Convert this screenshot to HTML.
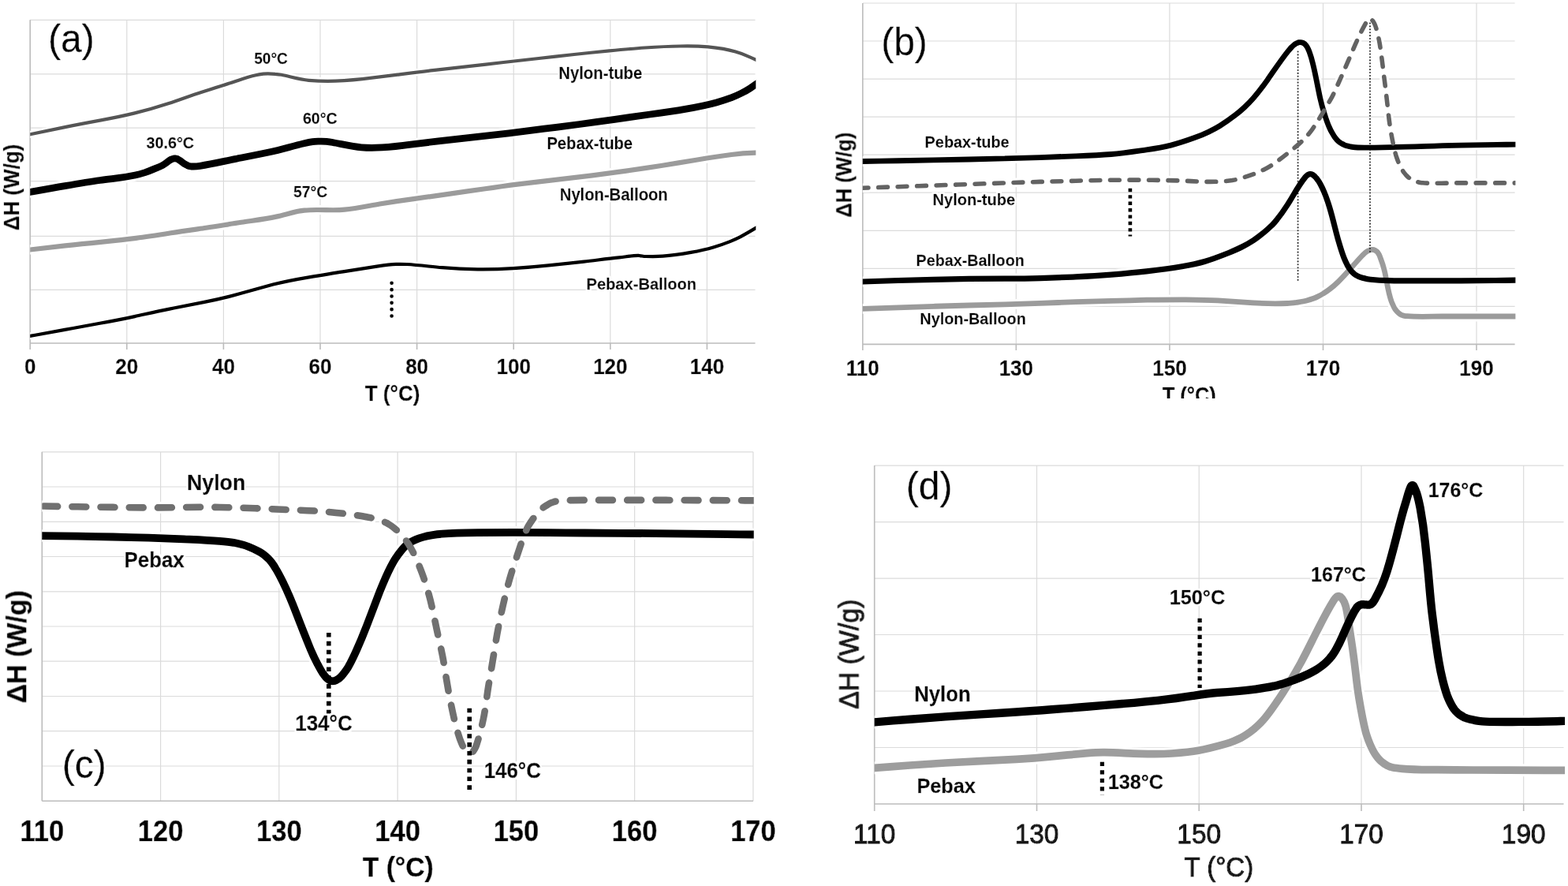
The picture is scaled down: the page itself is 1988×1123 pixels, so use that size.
<!DOCTYPE html>
<html lang="en"><head><meta charset="utf-8"><title>DSC thermograms</title>
<style>
html,body{margin:0;padding:0;background:#fff;}
body{width:1988px;height:1123px;overflow:hidden;}
svg{display:block;}
text{font-family:"Liberation Sans",Arial,Helvetica,sans-serif;font-weight:bold;fill:#000;stroke:#000;stroke-width:0.017em;stroke-linejoin:round;filter:url(#halo);}
text.r{font-weight:normal;stroke-width:0.008em;}
text.g{fill:#151515;stroke:#151515;stroke-width:0.036em;}
</style></head><body>
<svg width="1988" height="1123" viewBox="0 0 1988 1123">
<rect width="1988" height="1123" fill="#fff"/>
<defs>
<filter id="soft" filterUnits="userSpaceOnUse" x="0" y="0" width="1988" height="1123"><feGaussianBlur stdDeviation="0.5"/></filter>
<filter id="halo" x="-10%" y="-25%" width="120%" height="150%"><feMorphology in="SourceAlpha" operator="dilate" radius="2.2"/><feColorMatrix type="matrix" values="0 0 0 0 1 0 0 0 0 1 0 0 0 0 1 0 0 0 1 0"/><feMerge><feMergeNode/><feMergeNode in="SourceGraphic"/></feMerge></filter>
<clipPath id="ca"><rect x="38.2" y="0" width="920.1" height="460"/></clipPath>
<clipPath id="cb"><rect x="1093.8" y="0" width="827.6" height="460"/></clipPath>
<clipPath id="cbt"><rect x="1400" y="480" width="220" height="24.2"/></clipPath>
<clipPath id="cc"><rect x="53.3" y="560" width="902.4" height="470"/></clipPath>
<clipPath id="cd"><rect x="1108.7" y="560" width="875.3" height="470"/></clipPath>
</defs>
<g filter="url(#soft)">
<path d="M160.8 25.2V435M283.4 25.2V435M406 25.2V435M528.6 25.2V435M651.2 25.2V435M773.8 25.2V435M896.4 25.2V435M38.2 25.4H957.5M38.2 93.9H957.5M38.2 162.2H957.5M38.2 229.7H957.5M38.2 299.3H957.5M38.2 367.3H957.5" stroke="#dbdbdb" stroke-width="1.2" fill="none"/>
<path d="M38.2 435H957.5M38.2 25.2V435M38.2 435V443M160.8 435V443M283.4 435V443M406 435V443M528.6 435V443M651.2 435V443M773.8 435V443M896.4 435V443" stroke="#bcbcbc" stroke-width="1.6" fill="none"/>
<g clip-path="url(#ca)" fill="none" stroke-linejoin="round">
<path d="M30.5 172L38.3 170.3C53 167.2 67.7 164.1 82.4 161.1C97.1 158.1 111.9 155.3 126.6 152.6C141.4 149.9 156.1 147 170.7 143.4C185.3 139.8 199.7 135.7 214 131C228.2 126.3 242.3 120.9 256.6 116.4C270.9 111.9 285.3 107.5 299.5 102.7C307.7 100 316 97.2 324.4 95.3C327.5 94.6 330.7 94.1 333.8 93.7C335.8 93.5 337.8 93.3 339.8 93.3C342.8 93.3 345.8 93.5 348.8 93.8C351.5 94 354.1 94.3 356.7 94.8C368.3 97.1 379.7 100.7 391.5 101.8C399.5 102.5 407.5 102.9 415.5 102.9C430.2 102.7 444.9 101.6 459.4 100.1C474.4 98.4 489.3 96.5 504.2 94.7C519.1 92.8 533.9 90.9 548.9 89.2C563.8 87.5 578.7 85.8 593.6 84.1C608.5 82.4 623.5 80.7 638.4 79C653.3 77.3 668.2 75.7 683.1 74C698 72.3 713 70.6 727.9 69C742.8 67.4 757.8 65.9 772.7 64.4C787.6 63 802.6 61.6 817.6 60.5C832.5 59.5 847.5 58.7 862.5 58.5C874.2 58.3 885.9 58.4 897.6 59.3C904 59.9 910.5 60.7 916.9 61.9C922.1 62.9 927.3 64.1 932.5 65.6C937.3 67 942 68.7 946.6 70.6C950.5 72.2 954.3 73.9 958 75.7L965.2 79.2" stroke="#fff" stroke-width="9.2"/>
<path d="M30.1 244.9L38 243.5C52.8 240.8 67.5 238.1 82.4 235.6C97.2 233.1 112 230.6 126.8 228.5C141.7 226.3 156.7 225.3 171.4 222C175.6 221.1 179.8 219.9 183.9 218.6C187.4 217.4 190.8 216.1 194.2 214.6C198 212.9 202.1 211.8 205.7 209.7C207.3 208.8 208.8 207.8 210.3 206.7C212.1 205.4 213.7 204 215.6 202.9C216.3 202.5 217.1 202.1 217.8 201.8C218.5 201.5 219.1 201.3 219.7 201.1C220 201 220.4 200.9 220.7 200.9C221 200.8 221.4 200.8 221.7 200.8C222 200.8 222.4 200.8 222.7 200.9C223 200.9 223.4 201 223.7 201.1C224 201.2 224.3 201.3 224.6 201.4C225.1 201.6 225.5 201.9 226 202.1C227.1 202.8 228.2 203.6 229.3 204.3C231 205.6 232.7 207 234.6 208.1C235.6 208.7 236.6 209.3 237.7 209.7C238.3 210 238.9 210.2 239.6 210.4C240.1 210.6 240.6 210.7 241 210.8C241.5 210.9 242 211 242.5 211C243.4 211 244.2 211 245 211C247.9 210.9 250.7 210.7 253.5 210.3C268.4 208.1 283 204.6 297.7 201.6C312.4 198.7 327.2 195.9 341.9 192.8C356.6 189.7 370.9 185.2 385.6 181.8C389.1 181 392.7 180.2 396.4 179.7C398.7 179.4 401 179.3 403.4 179.2C406.9 179.1 410.4 179.1 413.9 179.4C416.5 179.6 419.2 180 421.8 180.5C433.9 182.7 445.9 185.9 458.2 186.8C464.6 187.3 470.9 187.4 477.2 187.2C488.6 186.9 499.9 185.7 511.1 184.3C526 182.4 540.9 180.6 555.9 178.9C570.8 177.2 585.7 175.6 600.6 173.9C615.6 172.3 630.5 170.6 645.4 168.9C660.3 167.1 675.2 165.2 690.1 163.2C705 161.3 719.9 159.5 734.8 157.5C749.7 155.5 764.5 153.4 779.4 151.3C794.3 149.2 809.1 147.1 824 145C838.9 142.9 853.7 140.8 868.5 138.3C881.9 136 895.2 133.5 908.2 129.9C914.8 128.1 921.3 126.1 927.7 123.7C932.1 122 936.3 120 940.5 117.9C944.1 116.1 947.6 114.2 950.9 112C953.2 110.5 955.3 109 957.5 107.4L964 102.8" stroke="#fff" stroke-width="14.8"/>
<path d="M30.1 317.4L38 316.5C52.9 314.7 67.8 313 82.7 311.4C97.7 309.7 112.6 308.2 127.5 306.8C142.5 305.3 157.4 303.8 172.3 301.9C187.2 300.1 202 297.7 216.8 295.3C231.6 292.8 246.5 290.9 261.4 288.8C276.3 286.7 291 284 305.9 281.8C320.7 279.5 335.6 277.7 350.3 274.6C362.2 272.1 373.8 267.9 385.9 266.7C391.1 266.1 396.3 266 401.4 266C413.3 265.9 425.1 266.9 436.9 265.7C451.8 264.1 466.6 261 481.4 258.5C496.2 256.1 511 253.9 525.9 251.9C540.8 249.9 555.6 247.7 570.5 245.6C585.4 243.5 600.2 241.3 615.1 239.2C629.9 237 644.8 235 659.7 233.1C674.6 231.3 689.5 229.6 704.4 227.9C719.3 226.2 734.2 224.4 749.1 222.6C764 220.7 778.9 218.7 793.8 216.6C808.6 214.5 823.5 212.3 838.3 210C853.1 207.6 867.9 205.1 882.7 202.7C897.6 200.2 912.4 197.8 927.3 196C937.4 194.7 947.5 194 957.7 193.7L965.7 193.4" stroke="#fff" stroke-width="12.2"/>
<path d="M30.1 427.3L38 425.9C52.8 423.3 67.6 420.6 82.3 417.9C97.1 415.3 111.9 412.5 126.6 409.8C141.4 407.1 156.2 404.3 170.8 401.1C185.5 397.9 200.1 394.6 214.9 391.6C229.6 388.7 244.3 385.9 259.1 382.9C273.8 379.9 288.4 376.6 302.9 372.6C317.4 368.7 331.8 364.5 346.3 360.6C360.8 356.8 375.6 354.1 390.4 351.6C405.2 349.1 420 346.6 434.9 344.3C449.7 342 464.5 339.6 479.4 337.4C487 336.3 494.6 335.3 502.3 334.9C506.8 334.7 511.3 334.8 515.8 335C530.8 335.9 545.7 337.9 560.6 339.2C575.6 340.6 590.6 341.3 605.6 341.4C620.6 341.6 635.6 341.1 650.6 340.1C665.6 339.2 680.6 338 695.5 336.4C710.4 334.8 725.4 333.4 740.3 331.7C755.2 330 770 327.7 785 326.3C793.1 325.6 801.2 323.8 809.4 323.9C810.1 324 810.7 324 811.4 324.1C813.9 324.4 816.3 325 818.8 325C826 325.2 833.2 325.3 840.3 324.7C852.3 323.8 864.2 322 876 319.9C885.6 318.1 895 316.1 904.3 313.4C911.5 311.3 918.7 308.9 925.6 306.1C930.1 304.3 934.5 302.3 938.8 300.1C945.2 296.7 951.3 293.1 957.5 289.4L964.4 285.3" stroke="#fff" stroke-width="9.2"/>
<path d="M30.5 172L38.3 170.3C53 167.2 67.7 164.1 82.4 161.1C97.1 158.1 111.9 155.3 126.6 152.6C141.4 149.9 156.1 147 170.7 143.4C185.3 139.8 199.7 135.7 214 131C228.2 126.3 242.3 120.9 256.6 116.4C270.9 111.9 285.3 107.5 299.5 102.7C307.7 100 316 97.2 324.4 95.3C327.5 94.6 330.7 94.1 333.8 93.7C335.8 93.5 337.8 93.3 339.8 93.3C342.8 93.3 345.8 93.5 348.8 93.8C351.5 94 354.1 94.3 356.7 94.8C368.3 97.1 379.7 100.7 391.5 101.8C399.5 102.5 407.5 102.9 415.5 102.9C430.2 102.7 444.9 101.6 459.4 100.1C474.4 98.4 489.3 96.5 504.2 94.7C519.1 92.8 533.9 90.9 548.9 89.2C563.8 87.5 578.7 85.8 593.6 84.1C608.5 82.4 623.5 80.7 638.4 79C653.3 77.3 668.2 75.7 683.1 74C698 72.3 713 70.6 727.9 69C742.8 67.4 757.8 65.9 772.7 64.4C787.6 63 802.6 61.6 817.6 60.5C832.5 59.5 847.5 58.7 862.5 58.5C874.2 58.3 885.9 58.4 897.6 59.3C904 59.9 910.5 60.7 916.9 61.9C922.1 62.9 927.3 64.1 932.5 65.6C937.3 67 942 68.7 946.6 70.6C950.5 72.2 954.3 73.9 958 75.7L965.2 79.2" stroke="#555" stroke-width="4.2"/>
<path d="M30.1 244.9L38 243.5C52.8 240.8 67.5 238.1 82.4 235.6C97.2 233.1 112 230.6 126.8 228.5C141.7 226.3 156.7 225.3 171.4 222C175.6 221.1 179.8 219.9 183.9 218.6C187.4 217.4 190.8 216.1 194.2 214.6C198 212.9 202.1 211.8 205.7 209.7C207.3 208.8 208.8 207.8 210.3 206.7C212.1 205.4 213.7 204 215.6 202.9C216.3 202.5 217.1 202.1 217.8 201.8C218.5 201.5 219.1 201.3 219.7 201.1C220 201 220.4 200.9 220.7 200.9C221 200.8 221.4 200.8 221.7 200.8C222 200.8 222.4 200.8 222.7 200.9C223 200.9 223.4 201 223.7 201.1C224 201.2 224.3 201.3 224.6 201.4C225.1 201.6 225.5 201.9 226 202.1C227.1 202.8 228.2 203.6 229.3 204.3C231 205.6 232.7 207 234.6 208.1C235.6 208.7 236.6 209.3 237.7 209.7C238.3 210 238.9 210.2 239.6 210.4C240.1 210.6 240.6 210.7 241 210.8C241.5 210.9 242 211 242.5 211C243.4 211 244.2 211 245 211C247.9 210.9 250.7 210.7 253.5 210.3C268.4 208.1 283 204.6 297.7 201.6C312.4 198.7 327.2 195.9 341.9 192.8C356.6 189.7 370.9 185.2 385.6 181.8C389.1 181 392.7 180.2 396.4 179.7C398.7 179.4 401 179.3 403.4 179.2C406.9 179.1 410.4 179.1 413.9 179.4C416.5 179.6 419.2 180 421.8 180.5C433.9 182.7 445.9 185.9 458.2 186.8C464.6 187.3 470.9 187.4 477.2 187.2C488.6 186.9 499.9 185.7 511.1 184.3C526 182.4 540.9 180.6 555.9 178.9C570.8 177.2 585.7 175.6 600.6 173.9C615.6 172.3 630.5 170.6 645.4 168.9C660.3 167.1 675.2 165.2 690.1 163.2C705 161.3 719.9 159.5 734.8 157.5C749.7 155.5 764.5 153.4 779.4 151.3C794.3 149.2 809.1 147.1 824 145C838.9 142.9 853.7 140.8 868.5 138.3C881.9 136 895.2 133.5 908.2 129.9C914.8 128.1 921.3 126.1 927.7 123.7C932.1 122 936.3 120 940.5 117.9C944.1 116.1 947.6 114.2 950.9 112C953.2 110.5 955.3 109 957.5 107.4L964 102.8" stroke="#000" stroke-width="8.8"/>
<path d="M30.1 317.4L38 316.5C52.9 314.7 67.8 313 82.7 311.4C97.7 309.7 112.6 308.2 127.5 306.8C142.5 305.3 157.4 303.8 172.3 301.9C187.2 300.1 202 297.7 216.8 295.3C231.6 292.8 246.5 290.9 261.4 288.8C276.3 286.7 291 284 305.9 281.8C320.7 279.5 335.6 277.7 350.3 274.6C362.2 272.1 373.8 267.9 385.9 266.7C391.1 266.1 396.3 266 401.4 266C413.3 265.9 425.1 266.9 436.9 265.7C451.8 264.1 466.6 261 481.4 258.5C496.2 256.1 511 253.9 525.9 251.9C540.8 249.9 555.6 247.7 570.5 245.6C585.4 243.5 600.2 241.3 615.1 239.2C629.9 237 644.8 235 659.7 233.1C674.6 231.3 689.5 229.6 704.4 227.9C719.3 226.2 734.2 224.4 749.1 222.6C764 220.7 778.9 218.7 793.8 216.6C808.6 214.5 823.5 212.3 838.3 210C853.1 207.6 867.9 205.1 882.7 202.7C897.6 200.2 912.4 197.8 927.3 196C937.4 194.7 947.5 194 957.7 193.7L965.7 193.4" stroke="#9b9b9b" stroke-width="6.2"/>
<path d="M30.1 427.3L38 425.9C52.8 423.3 67.6 420.6 82.3 417.9C97.1 415.3 111.9 412.5 126.6 409.8C141.4 407.1 156.2 404.3 170.8 401.1C185.5 397.9 200.1 394.6 214.9 391.6C229.6 388.7 244.3 385.9 259.1 382.9C273.8 379.9 288.4 376.6 302.9 372.6C317.4 368.7 331.8 364.5 346.3 360.6C360.8 356.8 375.6 354.1 390.4 351.6C405.2 349.1 420 346.6 434.9 344.3C449.7 342 464.5 339.6 479.4 337.4C487 336.3 494.6 335.3 502.3 334.9C506.8 334.7 511.3 334.8 515.8 335C530.8 335.9 545.7 337.9 560.6 339.2C575.6 340.6 590.6 341.3 605.6 341.4C620.6 341.6 635.6 341.1 650.6 340.1C665.6 339.2 680.6 338 695.5 336.4C710.4 334.8 725.4 333.4 740.3 331.7C755.2 330 770 327.7 785 326.3C793.1 325.6 801.2 323.8 809.4 323.9C810.1 324 810.7 324 811.4 324.1C813.9 324.4 816.3 325 818.8 325C826 325.2 833.2 325.3 840.3 324.7C852.3 323.8 864.2 322 876 319.9C885.6 318.1 895 316.1 904.3 313.4C911.5 311.3 918.7 308.9 925.6 306.1C930.1 304.3 934.5 302.3 938.8 300.1C945.2 296.7 951.3 293.1 957.5 289.4L964.4 285.3" stroke="#000" stroke-width="4.2"/>
<path d="M496.6 358.8V401" stroke="#000" stroke-width="4.6" stroke-dasharray="0.01 8.33" stroke-linecap="round"/>
</g>
<text transform="translate(38.2 474.1) scale(1 1.05)" font-size="26" text-anchor="middle">0</text>
<text transform="translate(160.8 474.1) scale(1 1.05)" font-size="26" text-anchor="middle">20</text>
<text transform="translate(283.4 474.1) scale(1 1.05)" font-size="26" text-anchor="middle">40</text>
<text transform="translate(406 474.1) scale(1 1.05)" font-size="26" text-anchor="middle">60</text>
<text transform="translate(528.6 474.1) scale(1 1.05)" font-size="26" text-anchor="middle">80</text>
<text transform="translate(651.2 474.1) scale(1 1.05)" font-size="26" text-anchor="middle">100</text>
<text transform="translate(773.8 474.1) scale(1 1.05)" font-size="26" text-anchor="middle">120</text>
<text transform="translate(896.4 474.1) scale(1 1.05)" font-size="26" text-anchor="middle">140</text>
<text transform="translate(462.7 508.4) scale(1 1.05)" font-size="26.03">T (°C)</text>
<text transform="translate(24.4 292.2) rotate(-90) scale(1 1.05)" font-size="25.95">ΔH (W/g)</text>
<text transform="translate(61 65.8) scale(1 1.03)" font-size="48" class="r">(a)</text>
<text transform="translate(322.2 80.5) scale(1 1.05)" font-size="19.12">50°C</text>
<text transform="translate(383.9 157.2) scale(1 1.05)" font-size="19.63">60°C</text>
<text transform="translate(185.5 188.1) scale(1 1.05)" font-size="19.78">30.6°C</text>
<text transform="translate(372 249.5) scale(1 1.05)" font-size="19.35">57°C</text>
<text transform="translate(708.3 100.1) scale(1 1.05)" font-size="20.29">Nylon-tube</text>
<text transform="translate(693.4 189.1) scale(1 1.05)" font-size="20.17">Pebax-tube</text>
<text transform="translate(709.8 254) scale(1 1.05)" font-size="20.20">Nylon-Balloon</text>
<text transform="translate(743.5 366.8) scale(1 1.05)" font-size="20.11">Pebax-Balloon</text>
<path d="M1288.3 4V436.4M1482.9 4V436.4M1677.5 4V436.4M1872 4V436.4M1093.8 4H1920.6M1093.8 52H1920.6M1093.8 100.1H1920.6M1093.8 148.1H1920.6M1093.8 196.2H1920.6M1093.8 244.2H1920.6M1093.8 292.3H1920.6M1093.8 340.3H1920.6M1093.8 388.4H1920.6" stroke="#dbdbdb" stroke-width="1.2" fill="none"/>
<path d="M1093.8 436.4H1920.6M1093.8 4V436.4M1093.8 436.4V443.9M1288.3 436.4V443.9M1482.9 436.4V443.9M1677.5 436.4V443.9M1872 436.4V443.9" stroke="#bcbcbc" stroke-width="1.6" fill="none"/>
<g clip-path="url(#cb)" fill="none" stroke-linejoin="round">
<path d="M1085.8 391.7L1093.8 391.4C1108.8 390.8 1123.8 390.3 1138.8 389.8C1153.8 389.3 1168.8 388.8 1183.8 388.3C1198.8 387.8 1213.8 387.4 1228.9 387C1243.9 386.7 1258.9 386.3 1273.9 385.8C1288.9 385.4 1303.9 384.9 1318.9 384.3C1333.9 383.8 1348.9 383.2 1363.9 382.7C1378.9 382.2 1393.9 381.7 1408.9 381.4C1423.9 381 1439 380.6 1454 380.2C1469 379.9 1484 379.8 1499 379.8C1514 379.9 1529 379.9 1544 380.9C1559 381.8 1574 383 1589 383.9C1603.3 384.8 1617.7 385.1 1632 384.5C1635.8 384.4 1639.6 383.9 1643.4 383.4C1647.9 382.7 1652.4 382.1 1656.7 381C1659.6 380.2 1662.5 379.3 1665.3 378.3C1667.2 377.6 1669 376.8 1670.8 375.9C1673.2 374.8 1675.6 373.4 1677.8 372C1680.8 370.2 1683.7 368.2 1686.5 366C1690 363.3 1693.4 360.3 1696.6 357.2C1707.5 346.8 1716.7 334.8 1727.1 324C1728.3 322.8 1729.4 321.6 1730.7 320.5C1731.3 320 1732 319.5 1732.7 319C1733.3 318.6 1733.8 318.3 1734.4 318C1735 317.7 1735.6 317.4 1736.3 317.2C1736.7 317 1737.2 316.8 1737.7 316.7C1738 316.6 1738.3 316.6 1738.7 316.5C1739 316.5 1739.3 316.4 1739.7 316.4C1740 316.4 1740.3 316.4 1740.7 316.5C1741 316.5 1741.3 316.5 1741.7 316.6C1742 316.7 1742.3 316.8 1742.6 316.9C1742.9 317.1 1743.2 317.2 1743.5 317.4C1743.8 317.5 1744.1 317.7 1744.4 317.9C1744.8 318.2 1745.2 318.5 1745.6 318.8C1746 319.1 1746.3 319.5 1746.6 319.9C1747 320.3 1747.3 320.7 1747.5 321.1C1747.9 321.7 1748.2 322.2 1748.5 322.8C1749.2 324.2 1749.7 325.6 1750.2 327C1752 331.7 1753.6 336.4 1754.8 341.3C1758.4 354.8 1759.3 369.1 1764.2 382.2C1765.1 384.4 1766 386.5 1767 388.6C1767.5 389.7 1768.1 390.7 1768.7 391.7C1769.2 392.4 1769.6 393.1 1770.2 393.7C1770.6 394.2 1771 394.7 1771.5 395.2C1772.1 395.8 1772.7 396.4 1773.4 396.9C1774 397.4 1774.7 397.9 1775.4 398.4C1776 398.7 1776.5 399 1777.2 399.3C1777.6 399.5 1778.1 399.7 1778.6 399.8C1779.2 400 1779.8 400.2 1780.5 400.3C1781.7 400.5 1782.8 400.6 1784 400.7C1798.9 401.9 1814 401 1829 401C1844 401 1859 401 1874.1 401C1889.1 401 1904.1 401 1919.1 401C1919.6 401 1920.1 401 1920.6 401L1928.6 401" stroke="#fff" stroke-width="12.8"/>
<path d="M1085.8 357.3L1093.8 357C1108.8 356.4 1123.8 355.9 1138.8 355.5C1153.8 355 1168.8 354.6 1183.8 354.3C1198.9 354 1213.9 353.7 1228.9 353.4C1243.9 353.2 1258.9 353.2 1273.9 353.2C1288.9 353.2 1303.9 353.1 1318.9 352.6C1334 352.1 1349 351.6 1364 350.9C1378.9 350.1 1393.9 349.2 1408.9 348.1C1423.9 346.9 1438.8 345.6 1453.7 343.9C1468.7 342.2 1483.6 340.4 1498.4 337.8C1508.1 336.1 1517.7 334.2 1527.2 331.5C1537.6 328.5 1547.7 324.5 1557.8 320.5C1564 318 1570.1 315.4 1576 312.3C1580.5 309.9 1584.8 307.4 1589 304.7C1593.6 301.6 1598 298.3 1602.3 294.8C1605.7 292 1609.1 289 1612.3 285.8C1614.6 283.6 1616.7 281.2 1618.6 278.7C1623.6 272.6 1628.1 266.2 1632.3 259.6C1639.8 248.2 1645.8 235.6 1654.5 225.1C1655 224.4 1655.5 223.8 1656.1 223.2C1656.6 222.8 1657.1 222.3 1657.7 221.9C1657.9 221.7 1658.2 221.5 1658.5 221.4C1658.8 221.2 1659.1 221.1 1659.4 220.9C1659.7 220.8 1660.1 220.7 1660.4 220.7C1660.6 220.6 1660.7 220.6 1660.9 220.6C1661.1 220.6 1661.2 220.6 1661.4 220.6C1661.6 220.6 1661.7 220.6 1661.9 220.6C1662.1 220.7 1662.2 220.7 1662.4 220.7C1662.7 220.8 1663 220.9 1663.3 221.1C1663.7 221.2 1664 221.4 1664.3 221.5C1664.7 221.8 1665.1 222.1 1665.5 222.4C1666 222.8 1666.6 223.2 1667 223.7C1667.6 224.2 1668.2 224.8 1668.7 225.5C1669.6 226.5 1670.4 227.6 1671.1 228.7C1672.4 230.5 1673.5 232.3 1674.5 234.2C1676.1 237.2 1677.5 240.2 1678.8 243.3C1681.5 249.6 1683.6 256.1 1685.6 262.6C1690 277 1693.1 291.7 1697.2 306.1C1699.2 313 1701.2 319.9 1703.9 326.6C1705.1 329.5 1706.4 332.4 1707.8 335.2C1708.7 336.9 1709.6 338.5 1710.6 340C1711.4 341.1 1712.2 342.2 1713 343.2C1713.6 344 1714.3 344.7 1715 345.4C1715.6 346 1716.3 346.5 1716.9 347.1C1717.7 347.7 1718.5 348.3 1719.4 348.8C1720.2 349.3 1721.1 349.8 1722 350.2C1722.9 350.6 1723.9 351 1724.8 351.3C1726.7 352 1728.6 352.5 1730.6 352.9C1732.9 353.5 1735.2 353.9 1737.5 354.2C1745.3 355.1 1753.1 355.5 1761 355.6C1776 356 1791 355.9 1806 355.9C1821 355.9 1836 355.9 1851 355.8C1866.1 355.8 1881.1 355.7 1896.1 355.5C1904.3 355.4 1912.4 355.3 1920.6 355.2L1928.6 355.1" stroke="#fff" stroke-width="13.2"/>
<path d="M1085.8 204.6L1093.8 204.5C1108.8 204.3 1123.8 204 1138.8 203.8C1153.8 203.5 1168.8 203.2 1183.8 202.9C1198.8 202.6 1213.8 202.3 1228.8 202C1243.9 201.7 1258.9 201.3 1273.9 200.9C1288.9 200.5 1303.9 200.1 1318.9 199.6C1333.9 199.1 1348.9 198.5 1363.9 197.9C1378.8 197.3 1393.8 196.7 1408.8 195.5C1423.8 194.3 1438.6 192 1453.5 189.9C1463.9 188.4 1474.3 186.7 1484.5 184.1C1494.6 181.6 1504.6 178.2 1514.5 174.6C1520.6 172.4 1526.6 170 1532.5 167.1C1537.3 164.8 1542 162.3 1546.6 159.5C1553.2 155.4 1559.7 150.9 1565.9 146.1C1570 143 1573.9 139.6 1577.7 136.1C1581.7 132.3 1585.6 128.4 1589.2 124.2C1595.6 116.8 1601.6 108.9 1607.2 100.9C1615.9 88.6 1624 76 1633.5 64.3C1634.9 62.7 1636.3 61 1637.8 59.5C1638.6 58.6 1639.5 57.8 1640.4 57.1C1641 56.6 1641.7 56.1 1642.4 55.6C1643 55.3 1643.6 54.9 1644.2 54.7C1644.6 54.4 1645.1 54.2 1645.6 54.1C1646 53.9 1646.5 53.8 1647 53.7C1647.3 53.7 1647.7 53.6 1648 53.6C1648.3 53.6 1648.7 53.6 1649 53.6C1649.4 53.6 1649.7 53.6 1650 53.7C1650.3 53.8 1650.7 53.8 1651 53.9C1651.3 54 1651.6 54.2 1651.9 54.3C1652.2 54.4 1652.5 54.6 1652.8 54.8C1653.1 54.9 1653.4 55.1 1653.7 55.3C1654.1 55.6 1654.4 56 1654.8 56.3C1655.1 56.7 1655.5 57.1 1655.8 57.5C1656.2 58 1656.6 58.5 1656.9 59.1C1657.5 60.1 1658.1 61.1 1658.6 62.2C1659.2 63.5 1659.8 64.9 1660.3 66.3C1662 70.9 1663.3 75.5 1664.4 80.2C1668.1 94.8 1670.5 109.6 1673.7 124.3C1675.2 131.3 1677.2 138.2 1679.4 145C1681.1 150.4 1682.9 155.8 1685.2 161C1686.3 163.6 1687.6 166.2 1689 168.6C1689.9 170.2 1690.9 171.8 1691.9 173.3C1692.9 174.6 1693.9 175.9 1695 177.2C1695.7 177.9 1696.4 178.6 1697.2 179.3C1697.8 179.8 1698.4 180.4 1699.1 180.8C1699.8 181.3 1700.5 181.8 1701.3 182.2C1702.3 182.7 1703.3 183.2 1704.4 183.7C1705.5 184.1 1706.6 184.5 1707.7 184.8C1709.3 185.3 1711 185.6 1712.6 186C1714.4 186.3 1716.2 186.6 1718 186.7C1733 187.8 1748.1 186.9 1763.1 186.6C1778.1 186.4 1793.1 185.9 1808.1 185.4C1823.1 184.8 1838.1 184.4 1853.1 184.1C1868.1 183.8 1883.1 183.6 1898.1 183.4C1905.6 183.3 1913.1 183.2 1920.6 183.1L1928.6 183" stroke="#fff" stroke-width="12.9"/>
<path d="M1085.8 238.5L1093.8 238.2C1108.8 237.7 1123.8 237.2 1138.8 236.7C1153.8 236.1 1168.8 235.6 1183.8 235.1C1198.8 234.6 1213.8 234 1228.8 233.5C1243.8 232.9 1258.8 232.4 1273.8 231.9C1288.8 231.4 1303.8 230.9 1318.8 230.4C1333.8 230 1348.8 229.6 1363.8 229.2C1378.9 228.9 1393.9 228.5 1408.9 228.3C1423.9 228.1 1438.9 228.1 1453.9 228.2C1468.9 228.4 1483.9 228.5 1498.9 229.1C1513.9 229.7 1528.9 230.9 1543.9 230.2C1550.1 229.9 1556.3 229.5 1562.4 228.6C1564.5 228.2 1566.6 227.8 1568.7 227.2C1575.8 225.4 1582.8 223 1589.7 220.5C1594.2 218.8 1598.7 216.9 1603 214.7C1605.5 213.5 1608 212.1 1610.4 210.6C1619.9 204.7 1628.5 197.5 1637.3 190.6C1642 186.9 1646.5 182.9 1650.9 178.7C1653.7 176 1656.5 173.1 1659.1 170C1660.6 168.2 1662.1 166.4 1663.4 164.5C1671.9 152.1 1679.5 139.2 1687 126.1C1689.7 121.4 1692 116.3 1694.3 111.3C1700.4 97.6 1706.5 83.9 1712.4 70.1C1718.2 56.4 1724.1 42.8 1731.3 29.8C1731.8 28.8 1732.4 27.8 1733.1 26.8C1733.4 26.4 1733.7 26 1734.1 25.6C1734.3 25.4 1734.6 25.2 1734.8 25C1735.1 24.8 1735.4 24.6 1735.7 24.5C1735.9 24.4 1736.1 24.3 1736.2 24.3C1736.4 24.2 1736.6 24.2 1736.7 24.2" stroke="#fff" stroke-width="11.6" stroke-dasharray="11.7 12.8" stroke-dashoffset="-3.4" stroke-linecap="round"/>
<path d="M1928.6 231.9L1920.6 231.9C1911.8 231.9 1902.9 231.9 1894.1 231.9C1879 231.9 1864 231.9 1849 231.9C1834 231.9 1818.9 232.8 1803.9 231.8C1802.9 231.8 1801.9 231.7 1800.9 231.5C1799.8 231.3 1798.6 231 1797.5 230.7C1795.8 230.1 1794 229.5 1792.4 228.8C1791.3 228.3 1790.2 227.8 1789.2 227.3C1788.5 226.9 1787.8 226.4 1787.1 225.9C1786.4 225.4 1785.8 224.9 1785.1 224.3C1784.3 223.6 1783.5 222.7 1782.7 221.9C1781.7 220.7 1780.7 219.6 1779.8 218.4C1778.9 217 1778 215.6 1777.1 214.2C1775.9 212.1 1774.9 210 1774 207.9C1772.7 205.1 1771.7 202.3 1770.7 199.5C1769.1 194.6 1767.9 189.5 1766.8 184.5C1764.2 172.1 1762 159.5 1760.6 146.9C1759 132 1757.3 117.1 1755.4 102.2C1753.5 87.3 1751.9 72.3 1749.6 57.5C1748.6 51 1747.1 44.7 1745.5 38.4C1745 36.4 1744.4 34.5 1743.7 32.6C1743.3 31.5 1742.8 30.5 1742.3 29.4C1741.9 28.7 1741.5 28 1741.1 27.3C1740.8 26.9 1740.5 26.5 1740.2 26.1C1739.9 25.8 1739.7 25.6 1739.4 25.3C1739.2 25.1 1738.9 24.9 1738.6 24.7C1738.5 24.6 1738.3 24.5 1738.2 24.5C1738 24.4 1737.9 24.3 1737.7 24.3C1737.5 24.2 1737.4 24.2 1737.2 24.2C1737.1 24.2 1736.9 24.2 1736.7 24.2" stroke="#fff" stroke-width="11.6" stroke-dasharray="11.7 12.8" stroke-dashoffset="3.4" stroke-linecap="round"/>
<path d="M1085.8 391.7L1093.8 391.4C1108.8 390.8 1123.8 390.3 1138.8 389.8C1153.8 389.3 1168.8 388.8 1183.8 388.3C1198.8 387.8 1213.8 387.4 1228.9 387C1243.9 386.7 1258.9 386.3 1273.9 385.8C1288.9 385.4 1303.9 384.9 1318.9 384.3C1333.9 383.8 1348.9 383.2 1363.9 382.7C1378.9 382.2 1393.9 381.7 1408.9 381.4C1423.9 381 1439 380.6 1454 380.2C1469 379.9 1484 379.8 1499 379.8C1514 379.9 1529 379.9 1544 380.9C1559 381.8 1574 383 1589 383.9C1603.3 384.8 1617.7 385.1 1632 384.5C1635.8 384.4 1639.6 383.9 1643.4 383.4C1647.9 382.7 1652.4 382.1 1656.7 381C1659.6 380.2 1662.5 379.3 1665.3 378.3C1667.2 377.6 1669 376.8 1670.8 375.9C1673.2 374.8 1675.6 373.4 1677.8 372C1680.8 370.2 1683.7 368.2 1686.5 366C1690 363.3 1693.4 360.3 1696.6 357.2C1707.5 346.8 1716.7 334.8 1727.1 324C1728.3 322.8 1729.4 321.6 1730.7 320.5C1731.3 320 1732 319.5 1732.7 319C1733.3 318.6 1733.8 318.3 1734.4 318C1735 317.7 1735.6 317.4 1736.3 317.2C1736.7 317 1737.2 316.8 1737.7 316.7C1738 316.6 1738.3 316.6 1738.7 316.5C1739 316.5 1739.3 316.4 1739.7 316.4C1740 316.4 1740.3 316.4 1740.7 316.5C1741 316.5 1741.3 316.5 1741.7 316.6C1742 316.7 1742.3 316.8 1742.6 316.9C1742.9 317.1 1743.2 317.2 1743.5 317.4C1743.8 317.5 1744.1 317.7 1744.4 317.9C1744.8 318.2 1745.2 318.5 1745.6 318.8C1746 319.1 1746.3 319.5 1746.6 319.9C1747 320.3 1747.3 320.7 1747.5 321.1C1747.9 321.7 1748.2 322.2 1748.5 322.8C1749.2 324.2 1749.7 325.6 1750.2 327C1752 331.7 1753.6 336.4 1754.8 341.3C1758.4 354.8 1759.3 369.1 1764.2 382.2C1765.1 384.4 1766 386.5 1767 388.6C1767.5 389.7 1768.1 390.7 1768.7 391.7C1769.2 392.4 1769.6 393.1 1770.2 393.7C1770.6 394.2 1771 394.7 1771.5 395.2C1772.1 395.8 1772.7 396.4 1773.4 396.9C1774 397.4 1774.7 397.9 1775.4 398.4C1776 398.7 1776.5 399 1777.2 399.3C1777.6 399.5 1778.1 399.7 1778.6 399.8C1779.2 400 1779.8 400.2 1780.5 400.3C1781.7 400.5 1782.8 400.6 1784 400.7C1798.9 401.9 1814 401 1829 401C1844 401 1859 401 1874.1 401C1889.1 401 1904.1 401 1919.1 401C1919.6 401 1920.1 401 1920.6 401L1928.6 401" stroke="#9b9b9b" stroke-width="6.8"/>
<path d="M1645.6 65.5V355.5" stroke="#333" stroke-width="2.1" stroke-dasharray="0.01 3.9" stroke-linecap="round"/>
<path d="M1737 29.5V321" stroke="#333" stroke-width="2.1" stroke-dasharray="0.01 3.9" stroke-linecap="round"/>
<path d="M1085.8 357.3L1093.8 357C1108.8 356.4 1123.8 355.9 1138.8 355.5C1153.8 355 1168.8 354.6 1183.8 354.3C1198.9 354 1213.9 353.7 1228.9 353.4C1243.9 353.2 1258.9 353.2 1273.9 353.2C1288.9 353.2 1303.9 353.1 1318.9 352.6C1334 352.1 1349 351.6 1364 350.9C1378.9 350.1 1393.9 349.2 1408.9 348.1C1423.9 346.9 1438.8 345.6 1453.7 343.9C1468.7 342.2 1483.6 340.4 1498.4 337.8C1508.1 336.1 1517.7 334.2 1527.2 331.5C1537.6 328.5 1547.7 324.5 1557.8 320.5C1564 318 1570.1 315.4 1576 312.3C1580.5 309.9 1584.8 307.4 1589 304.7C1593.6 301.6 1598 298.3 1602.3 294.8C1605.7 292 1609.1 289 1612.3 285.8C1614.6 283.6 1616.7 281.2 1618.6 278.7C1623.6 272.6 1628.1 266.2 1632.3 259.6C1639.8 248.2 1645.8 235.6 1654.5 225.1C1655 224.4 1655.5 223.8 1656.1 223.2C1656.6 222.8 1657.1 222.3 1657.7 221.9C1657.9 221.7 1658.2 221.5 1658.5 221.4C1658.8 221.2 1659.1 221.1 1659.4 220.9C1659.7 220.8 1660.1 220.7 1660.4 220.7C1660.6 220.6 1660.7 220.6 1660.9 220.6C1661.1 220.6 1661.2 220.6 1661.4 220.6C1661.6 220.6 1661.7 220.6 1661.9 220.6C1662.1 220.7 1662.2 220.7 1662.4 220.7C1662.7 220.8 1663 220.9 1663.3 221.1C1663.7 221.2 1664 221.4 1664.3 221.5C1664.7 221.8 1665.1 222.1 1665.5 222.4C1666 222.8 1666.6 223.2 1667 223.7C1667.6 224.2 1668.2 224.8 1668.7 225.5C1669.6 226.5 1670.4 227.6 1671.1 228.7C1672.4 230.5 1673.5 232.3 1674.5 234.2C1676.1 237.2 1677.5 240.2 1678.8 243.3C1681.5 249.6 1683.6 256.1 1685.6 262.6C1690 277 1693.1 291.7 1697.2 306.1C1699.2 313 1701.2 319.9 1703.9 326.6C1705.1 329.5 1706.4 332.4 1707.8 335.2C1708.7 336.9 1709.6 338.5 1710.6 340C1711.4 341.1 1712.2 342.2 1713 343.2C1713.6 344 1714.3 344.7 1715 345.4C1715.6 346 1716.3 346.5 1716.9 347.1C1717.7 347.7 1718.5 348.3 1719.4 348.8C1720.2 349.3 1721.1 349.8 1722 350.2C1722.9 350.6 1723.9 351 1724.8 351.3C1726.7 352 1728.6 352.5 1730.6 352.9C1732.9 353.5 1735.2 353.9 1737.5 354.2C1745.3 355.1 1753.1 355.5 1761 355.6C1776 356 1791 355.9 1806 355.9C1821 355.9 1836 355.9 1851 355.8C1866.1 355.8 1881.1 355.7 1896.1 355.5C1904.3 355.4 1912.4 355.3 1920.6 355.2L1928.6 355.1" stroke="#000" stroke-width="7.2"/>
<path d="M1085.8 204.6L1093.8 204.5C1108.8 204.3 1123.8 204 1138.8 203.8C1153.8 203.5 1168.8 203.2 1183.8 202.9C1198.8 202.6 1213.8 202.3 1228.8 202C1243.9 201.7 1258.9 201.3 1273.9 200.9C1288.9 200.5 1303.9 200.1 1318.9 199.6C1333.9 199.1 1348.9 198.5 1363.9 197.9C1378.8 197.3 1393.8 196.7 1408.8 195.5C1423.8 194.3 1438.6 192 1453.5 189.9C1463.9 188.4 1474.3 186.7 1484.5 184.1C1494.6 181.6 1504.6 178.2 1514.5 174.6C1520.6 172.4 1526.6 170 1532.5 167.1C1537.3 164.8 1542 162.3 1546.6 159.5C1553.2 155.4 1559.7 150.9 1565.9 146.1C1570 143 1573.9 139.6 1577.7 136.1C1581.7 132.3 1585.6 128.4 1589.2 124.2C1595.6 116.8 1601.6 108.9 1607.2 100.9C1615.9 88.6 1624 76 1633.5 64.3C1634.9 62.7 1636.3 61 1637.8 59.5C1638.6 58.6 1639.5 57.8 1640.4 57.1C1641 56.6 1641.7 56.1 1642.4 55.6C1643 55.3 1643.6 54.9 1644.2 54.7C1644.6 54.4 1645.1 54.2 1645.6 54.1C1646 53.9 1646.5 53.8 1647 53.7C1647.3 53.7 1647.7 53.6 1648 53.6C1648.3 53.6 1648.7 53.6 1649 53.6C1649.4 53.6 1649.7 53.6 1650 53.7C1650.3 53.8 1650.7 53.8 1651 53.9C1651.3 54 1651.6 54.2 1651.9 54.3C1652.2 54.4 1652.5 54.6 1652.8 54.8C1653.1 54.9 1653.4 55.1 1653.7 55.3C1654.1 55.6 1654.4 56 1654.8 56.3C1655.1 56.7 1655.5 57.1 1655.8 57.5C1656.2 58 1656.6 58.5 1656.9 59.1C1657.5 60.1 1658.1 61.1 1658.6 62.2C1659.2 63.5 1659.8 64.9 1660.3 66.3C1662 70.9 1663.3 75.5 1664.4 80.2C1668.1 94.8 1670.5 109.6 1673.7 124.3C1675.2 131.3 1677.2 138.2 1679.4 145C1681.1 150.4 1682.9 155.8 1685.2 161C1686.3 163.6 1687.6 166.2 1689 168.6C1689.9 170.2 1690.9 171.8 1691.9 173.3C1692.9 174.6 1693.9 175.9 1695 177.2C1695.7 177.9 1696.4 178.6 1697.2 179.3C1697.8 179.8 1698.4 180.4 1699.1 180.8C1699.8 181.3 1700.5 181.8 1701.3 182.2C1702.3 182.7 1703.3 183.2 1704.4 183.7C1705.5 184.1 1706.6 184.5 1707.7 184.8C1709.3 185.3 1711 185.6 1712.6 186C1714.4 186.3 1716.2 186.6 1718 186.7C1733 187.8 1748.1 186.9 1763.1 186.6C1778.1 186.4 1793.1 185.9 1808.1 185.4C1823.1 184.8 1838.1 184.4 1853.1 184.1C1868.1 183.8 1883.1 183.6 1898.1 183.4C1905.6 183.3 1913.1 183.2 1920.6 183.1L1928.6 183" stroke="#000" stroke-width="6.9"/>
<path d="M1085.8 238.5L1093.8 238.2C1108.8 237.7 1123.8 237.2 1138.8 236.7C1153.8 236.1 1168.8 235.6 1183.8 235.1C1198.8 234.6 1213.8 234 1228.8 233.5C1243.8 232.9 1258.8 232.4 1273.8 231.9C1288.8 231.4 1303.8 230.9 1318.8 230.4C1333.8 230 1348.8 229.6 1363.8 229.2C1378.9 228.9 1393.9 228.5 1408.9 228.3C1423.9 228.1 1438.9 228.1 1453.9 228.2C1468.9 228.4 1483.9 228.5 1498.9 229.1C1513.9 229.7 1528.9 230.9 1543.9 230.2C1550.1 229.9 1556.3 229.5 1562.4 228.6C1564.5 228.2 1566.6 227.8 1568.7 227.2C1575.8 225.4 1582.8 223 1589.7 220.5C1594.2 218.8 1598.7 216.9 1603 214.7C1605.5 213.5 1608 212.1 1610.4 210.6C1619.9 204.7 1628.5 197.5 1637.3 190.6C1642 186.9 1646.5 182.9 1650.9 178.7C1653.7 176 1656.5 173.1 1659.1 170C1660.6 168.2 1662.1 166.4 1663.4 164.5C1671.9 152.1 1679.5 139.2 1687 126.1C1689.7 121.4 1692 116.3 1694.3 111.3C1700.4 97.6 1706.5 83.9 1712.4 70.1C1718.2 56.4 1724.1 42.8 1731.3 29.8C1731.8 28.8 1732.4 27.8 1733.1 26.8C1733.4 26.4 1733.7 26 1734.1 25.6C1734.3 25.4 1734.6 25.2 1734.8 25C1735.1 24.8 1735.4 24.6 1735.7 24.5C1735.9 24.4 1736.1 24.3 1736.2 24.3C1736.4 24.2 1736.6 24.2 1736.7 24.2" stroke="#636363" stroke-width="5.6" stroke-dasharray="11.7 12.8" stroke-dashoffset="-3.4" stroke-linecap="round"/>
<path d="M1928.6 231.9L1920.6 231.9C1911.8 231.9 1902.9 231.9 1894.1 231.9C1879 231.9 1864 231.9 1849 231.9C1834 231.9 1818.9 232.8 1803.9 231.8C1802.9 231.8 1801.9 231.7 1800.9 231.5C1799.8 231.3 1798.6 231 1797.5 230.7C1795.8 230.1 1794 229.5 1792.4 228.8C1791.3 228.3 1790.2 227.8 1789.2 227.3C1788.5 226.9 1787.8 226.4 1787.1 225.9C1786.4 225.4 1785.8 224.9 1785.1 224.3C1784.3 223.6 1783.5 222.7 1782.7 221.9C1781.7 220.7 1780.7 219.6 1779.8 218.4C1778.9 217 1778 215.6 1777.1 214.2C1775.9 212.1 1774.9 210 1774 207.9C1772.7 205.1 1771.7 202.3 1770.7 199.5C1769.1 194.6 1767.9 189.5 1766.8 184.5C1764.2 172.1 1762 159.5 1760.6 146.9C1759 132 1757.3 117.1 1755.4 102.2C1753.5 87.3 1751.9 72.3 1749.6 57.5C1748.6 51 1747.1 44.7 1745.5 38.4C1745 36.4 1744.4 34.5 1743.7 32.6C1743.3 31.5 1742.8 30.5 1742.3 29.4C1741.9 28.7 1741.5 28 1741.1 27.3C1740.8 26.9 1740.5 26.5 1740.2 26.1C1739.9 25.8 1739.7 25.6 1739.4 25.3C1739.2 25.1 1738.9 24.9 1738.6 24.7C1738.5 24.6 1738.3 24.5 1738.2 24.5C1738 24.4 1737.9 24.3 1737.7 24.3C1737.5 24.2 1737.4 24.2 1737.2 24.2C1737.1 24.2 1736.9 24.2 1736.7 24.2" stroke="#636363" stroke-width="5.6" stroke-dasharray="11.7 12.8" stroke-dashoffset="3.4" stroke-linecap="round"/>
<path d="M1432.9 238.8V299.5" stroke="#000" stroke-width="4.6" stroke-dasharray="4.4 4"/>
</g>
<text transform="translate(1093.8 475.5) scale(1 1.05)" font-size="26" text-anchor="middle">110</text>
<text transform="translate(1288.3 475.5) scale(1 1.05)" font-size="26" text-anchor="middle">130</text>
<text transform="translate(1482.9 475.5) scale(1 1.05)" font-size="26" text-anchor="middle">150</text>
<text transform="translate(1677.5 475.5) scale(1 1.05)" font-size="26" text-anchor="middle">170</text>
<text transform="translate(1872 475.5) scale(1 1.05)" font-size="26" text-anchor="middle">190</text>
<g clip-path="url(#cbt)">
<text transform="translate(1473.7 510) scale(1 1.05)" font-size="25.46">T (°C)</text>
</g>
<text transform="translate(1079.7 275.7) rotate(-90) scale(1 1.05)" font-size="25.64">ΔH (W/g)</text>
<text transform="translate(1117.2 69.6) scale(1 1.03)" font-size="48" class="r">(b)</text>
<text transform="translate(1172.6 186.9) scale(1 1.05)" font-size="19.87">Pebax-tube</text>
<text transform="translate(1182.6 260.3) scale(1 1.05)" font-size="20.00">Nylon-tube</text>
<text transform="translate(1161.5 337.3) scale(1 1.05)" font-size="19.77">Pebax-Balloon</text>
<text transform="translate(1166.3 411) scale(1 1.05)" font-size="19.85">Nylon-Balloon</text>
<path d="M203.6 572.8V1015.2M353.8 572.8V1015.2M504.1 572.8V1015.2M654.4 572.8V1015.2M804.6 572.8V1015.2M954.9 572.8V1015.2M53.3 572.8H954.9M53.3 617H954.9M53.3 661.3H954.9M53.3 705.5H954.9M53.3 749.8H954.9M53.3 794H954.9M53.3 838.2H954.9M53.3 882.5H954.9M53.3 926.7H954.9M53.3 971H954.9" stroke="#dbdbdb" stroke-width="1.2" fill="none"/>
<path d="M53.3 1015.2H954.9M53.3 572.8V1015.2" stroke="#bcbcbc" stroke-width="1.6" fill="none"/>
<g clip-path="url(#cc)" fill="none" stroke-linejoin="round">
<path d="M45.3 679.1L53.3 679.2C68.3 679.3 83.3 679.5 98.3 679.7C113.3 680 128.4 680.2 143.4 680.5C158.4 680.9 173.4 681.3 188.4 681.7C203.4 682.2 218.4 682.7 233.4 683.3C248.4 684 263.4 684.6 278.4 685.8C284.4 686.3 290.4 686.8 296.3 687.8C300.4 688.6 304.5 689.5 308.5 690.6C310.5 691.2 312.6 692 314.6 692.8C318.9 694.5 323.2 696.4 327.4 698.6C329 699.4 330.6 700.4 332.1 701.4C333.7 702.5 335.3 703.7 336.8 705C338.2 706.2 339.6 707.5 340.9 708.8C342 710 343.1 711.3 344.1 712.6C346 715.1 347.8 717.8 349.4 720.5C352.8 725.9 355.6 731.5 358.4 737.2C365 750.7 370.8 764.6 376.1 778.6C381.5 792.6 387 806.6 392.7 820.5C395.7 827.8 398.9 834.9 402.6 841.8C404.7 845.6 406.7 849.5 409.1 853.1C410.2 854.6 411.3 856.1 412.4 857.5C413.1 858.2 413.8 859 414.5 859.7C415 860.1 415.5 860.6 416 861C416.5 861.4 417.1 861.8 417.7 862.1C418.1 862.3 418.6 862.6 419 862.8C419.3 862.9 419.7 863 420 863.1C420.3 863.1 420.6 863.2 421 863.2C421.3 863.3 421.6 863.3 422 863.3C422.3 863.3 422.7 863.2 423 863.2C423.3 863.1 423.6 863.1 424 863C424.4 862.8 424.9 862.7 425.4 862.5C426 862.2 426.6 861.9 427.2 861.6C427.9 861.2 428.6 860.8 429.3 860.3C429.9 859.9 430.4 859.5 430.9 859.1C431.5 858.5 432.1 857.9 432.7 857.3C434.3 855.6 435.7 853.8 437.1 851.9C438.7 849.8 440.2 847.5 441.6 845.3C443.7 841.7 445.6 838 447.4 834.2C453.9 820.6 459.7 806.8 465.1 792.8C470.5 778.8 475.7 764.7 481.1 750.7C485.5 739.7 490.1 728.7 495.5 718.2C497.4 714.5 499.5 710.9 501.7 707.4C503.6 704.6 505.5 701.9 507.6 699.3C509.5 696.9 511.4 694.6 513.5 692.5C514.4 691.7 515.2 690.9 516.1 690.1C516.9 689.5 517.7 688.9 518.5 688.3C519.6 687.6 520.8 686.9 522 686.3C523.9 685.3 525.9 684.4 527.9 683.6C530.5 682.6 533.2 681.7 536 680.9C540.1 679.7 544.4 678.9 548.7 678.2C552.6 677.5 556.6 677 560.6 676.7C575.6 675.6 590.6 675.4 605.6 675.2C620.6 675 635.6 674.9 650.6 674.9C665.7 674.9 680.7 675 695.7 675.1C710.7 675.2 725.7 675.4 740.7 675.5C755.7 675.6 770.7 675.6 785.8 675.8C800.8 675.9 815.8 676 830.8 676.1C845.8 676.3 860.8 676.5 875.8 676.6C890.8 676.8 905.9 677 920.9 677.1C932.2 677.2 943.6 677.4 954.9 677.5L962.9 677.6" stroke="#fff" stroke-width="15.8"/>
<path d="M45.3 641.3L53.3 641.5C68.3 641.8 83.3 642.1 98.3 642.3C113.3 642.5 128.3 642.7 143.4 642.9C158.4 643.1 173.4 643.4 188.4 643.4C203.4 643.5 218.4 643.3 233.4 643C248.4 642.6 263.4 642.7 278.5 643C293.5 643.3 308.5 643.6 323.5 644.2C338.5 644.9 353.5 645.6 368.5 646.2C383.5 646.8 398.5 647.3 413.4 648.6C428.4 650 443.3 651.6 458.1 654C464.2 655 470.3 656.2 476.2 657.8C479.5 658.7 482.6 659.7 485.8 660.9C487.3 661.5 488.8 662.2 490.3 662.9C491.8 663.7 493.2 664.6 494.6 665.5C496.7 666.9 498.7 668.4 500.6 670C502.7 671.7 504.7 673.5 506.5 675.4C508.6 677.5 510.6 679.8 512.5 682.1C514.5 684.6 516.3 687.2 518.1 689.9C520 692.9 521.8 696.2 523.5 699.4C527.3 707 530.6 714.9 533.7 722.8C537.7 733.1 541 743.6 543.9 754.2C547.9 768.7 550.7 783.4 553.8 798.1C556.9 812.8 560.7 827.4 563 842.2C565.3 857 567.7 871.8 570.6 886.6C573.5 901 576.4 915.4 580.7 929.4C582 933.7 583.5 938 585.2 942.1C585.9 943.8 586.7 945.5 587.6 947.1C588.2 948.1 588.8 949.1 589.4 950.1C589.9 950.8 590.4 951.4 591 952.1C591.4 952.6 591.9 953 592.4 953.5C592.7 953.9 593.1 954.2 593.5 954.5C593.8 954.7 594.1 954.8 594.4 955C594.6 955 594.7 955.1 594.9 955.1C595.1 955.1 595.2 955.2 595.4 955.2C595.6 955.2 595.7 955.2 595.9 955.2" stroke="#fff" stroke-width="14.6" stroke-dasharray="17.9 18.3" stroke-dashoffset="-9.9" stroke-linecap="round"/>
<path d="M962.9 634.4L954.9 634.4C947.9 634.4 940.9 634.3 933.9 634.3C918.9 634.2 903.9 634.1 888.8 634.1C873.8 634 858.8 634 843.8 633.9C828.8 633.9 813.8 633.9 798.8 633.9C783.7 633.9 768.7 633.9 753.7 633.9C738.7 633.9 723.7 633.7 708.7 635C707.4 635.1 706 635.2 704.7 635.5C703.9 635.6 703.1 635.8 702.3 636.1C701.4 636.4 700.4 636.7 699.5 637.1C697.8 637.8 696.2 638.7 694.6 639.6C693.1 640.4 691.7 641.2 690.3 642.2C689.3 642.8 688.4 643.6 687.5 644.3C686.2 645.6 684.9 646.9 683.7 648.2C680.5 651.7 677.6 655.3 674.8 659.1C673.2 661.3 671.8 663.5 670.4 665.8C669.1 667.9 668 670.2 667 672.5C664.3 678.6 662.1 684.9 660 691.2C655.3 705.5 650.2 719.6 646.1 734.1C642 748.5 638.6 763.1 635.4 777.8C632.3 792.5 629.5 807.2 627.2 822.1C624.8 836.9 622.4 851.7 619.8 866.5C617.3 881.3 615.9 896.3 612.9 911C610.7 921.6 608 932.2 604.7 942.5C604.3 943.9 603.8 945.3 603.2 946.7C602.8 947.6 602.3 948.5 601.8 949.4C601.3 950.3 600.8 951.1 600.2 951.9C599.8 952.5 599.4 953 598.9 953.5C598.7 953.8 598.5 954 598.2 954.2C598.1 954.3 598 954.4 597.8 954.5C597.7 954.6 597.5 954.7 597.4 954.7C597.2 954.8 597.1 954.9 596.9 954.9C596.7 955 596.6 955.1 596.4 955.1C596.2 955.1 596.1 955.2 595.9 955.2" stroke="#fff" stroke-width="14.6" stroke-dasharray="17.9 18.3" stroke-dashoffset="-5" stroke-linecap="round"/>
<path d="M45.3 679.1L53.3 679.2C68.3 679.3 83.3 679.5 98.3 679.7C113.3 680 128.4 680.2 143.4 680.5C158.4 680.9 173.4 681.3 188.4 681.7C203.4 682.2 218.4 682.7 233.4 683.3C248.4 684 263.4 684.6 278.4 685.8C284.4 686.3 290.4 686.8 296.3 687.8C300.4 688.6 304.5 689.5 308.5 690.6C310.5 691.2 312.6 692 314.6 692.8C318.9 694.5 323.2 696.4 327.4 698.6C329 699.4 330.6 700.4 332.1 701.4C333.7 702.5 335.3 703.7 336.8 705C338.2 706.2 339.6 707.5 340.9 708.8C342 710 343.1 711.3 344.1 712.6C346 715.1 347.8 717.8 349.4 720.5C352.8 725.9 355.6 731.5 358.4 737.2C365 750.7 370.8 764.6 376.1 778.6C381.5 792.6 387 806.6 392.7 820.5C395.7 827.8 398.9 834.9 402.6 841.8C404.7 845.6 406.7 849.5 409.1 853.1C410.2 854.6 411.3 856.1 412.4 857.5C413.1 858.2 413.8 859 414.5 859.7C415 860.1 415.5 860.6 416 861C416.5 861.4 417.1 861.8 417.7 862.1C418.1 862.3 418.6 862.6 419 862.8C419.3 862.9 419.7 863 420 863.1C420.3 863.1 420.6 863.2 421 863.2C421.3 863.3 421.6 863.3 422 863.3C422.3 863.3 422.7 863.2 423 863.2C423.3 863.1 423.6 863.1 424 863C424.4 862.8 424.9 862.7 425.4 862.5C426 862.2 426.6 861.9 427.2 861.6C427.9 861.2 428.6 860.8 429.3 860.3C429.9 859.9 430.4 859.5 430.9 859.1C431.5 858.5 432.1 857.9 432.7 857.3C434.3 855.6 435.7 853.8 437.1 851.9C438.7 849.8 440.2 847.5 441.6 845.3C443.7 841.7 445.6 838 447.4 834.2C453.9 820.6 459.7 806.8 465.1 792.8C470.5 778.8 475.7 764.7 481.1 750.7C485.5 739.7 490.1 728.7 495.5 718.2C497.4 714.5 499.5 710.9 501.7 707.4C503.6 704.6 505.5 701.9 507.6 699.3C509.5 696.9 511.4 694.6 513.5 692.5C514.4 691.7 515.2 690.9 516.1 690.1C516.9 689.5 517.7 688.9 518.5 688.3C519.6 687.6 520.8 686.9 522 686.3C523.9 685.3 525.9 684.4 527.9 683.6C530.5 682.6 533.2 681.7 536 680.9C540.1 679.7 544.4 678.9 548.7 678.2C552.6 677.5 556.6 677 560.6 676.7C575.6 675.6 590.6 675.4 605.6 675.2C620.6 675 635.6 674.9 650.6 674.9C665.7 674.9 680.7 675 695.7 675.1C710.7 675.2 725.7 675.4 740.7 675.5C755.7 675.6 770.7 675.6 785.8 675.8C800.8 675.9 815.8 676 830.8 676.1C845.8 676.3 860.8 676.5 875.8 676.6C890.8 676.8 905.9 677 920.9 677.1C932.2 677.2 943.6 677.4 954.9 677.5L962.9 677.6" stroke="#000" stroke-width="9.8"/>
<path d="M45.3 641.3L53.3 641.5C68.3 641.8 83.3 642.1 98.3 642.3C113.3 642.5 128.3 642.7 143.4 642.9C158.4 643.1 173.4 643.4 188.4 643.4C203.4 643.5 218.4 643.3 233.4 643C248.4 642.6 263.4 642.7 278.5 643C293.5 643.3 308.5 643.6 323.5 644.2C338.5 644.9 353.5 645.6 368.5 646.2C383.5 646.8 398.5 647.3 413.4 648.6C428.4 650 443.3 651.6 458.1 654C464.2 655 470.3 656.2 476.2 657.8C479.5 658.7 482.6 659.7 485.8 660.9C487.3 661.5 488.8 662.2 490.3 662.9C491.8 663.7 493.2 664.6 494.6 665.5C496.7 666.9 498.7 668.4 500.6 670C502.7 671.7 504.7 673.5 506.5 675.4C508.6 677.5 510.6 679.8 512.5 682.1C514.5 684.6 516.3 687.2 518.1 689.9C520 692.9 521.8 696.2 523.5 699.4C527.3 707 530.6 714.9 533.7 722.8C537.7 733.1 541 743.6 543.9 754.2C547.9 768.7 550.7 783.4 553.8 798.1C556.9 812.8 560.7 827.4 563 842.2C565.3 857 567.7 871.8 570.6 886.6C573.5 901 576.4 915.4 580.7 929.4C582 933.7 583.5 938 585.2 942.1C585.9 943.8 586.7 945.5 587.6 947.1C588.2 948.1 588.8 949.1 589.4 950.1C589.9 950.8 590.4 951.4 591 952.1C591.4 952.6 591.9 953 592.4 953.5C592.7 953.9 593.1 954.2 593.5 954.5C593.8 954.7 594.1 954.8 594.4 955C594.6 955 594.7 955.1 594.9 955.1C595.1 955.1 595.2 955.2 595.4 955.2C595.6 955.2 595.7 955.2 595.9 955.2" stroke="#6f6f6f" stroke-width="8.6" stroke-dasharray="17.9 18.3" stroke-dashoffset="-9.9" stroke-linecap="round"/>
<path d="M962.9 634.4L954.9 634.4C947.9 634.4 940.9 634.3 933.9 634.3C918.9 634.2 903.9 634.1 888.8 634.1C873.8 634 858.8 634 843.8 633.9C828.8 633.9 813.8 633.9 798.8 633.9C783.7 633.9 768.7 633.9 753.7 633.9C738.7 633.9 723.7 633.7 708.7 635C707.4 635.1 706 635.2 704.7 635.5C703.9 635.6 703.1 635.8 702.3 636.1C701.4 636.4 700.4 636.7 699.5 637.1C697.8 637.8 696.2 638.7 694.6 639.6C693.1 640.4 691.7 641.2 690.3 642.2C689.3 642.8 688.4 643.6 687.5 644.3C686.2 645.6 684.9 646.9 683.7 648.2C680.5 651.7 677.6 655.3 674.8 659.1C673.2 661.3 671.8 663.5 670.4 665.8C669.1 667.9 668 670.2 667 672.5C664.3 678.6 662.1 684.9 660 691.2C655.3 705.5 650.2 719.6 646.1 734.1C642 748.5 638.6 763.1 635.4 777.8C632.3 792.5 629.5 807.2 627.2 822.1C624.8 836.9 622.4 851.7 619.8 866.5C617.3 881.3 615.9 896.3 612.9 911C610.7 921.6 608 932.2 604.7 942.5C604.3 943.9 603.8 945.3 603.2 946.7C602.8 947.6 602.3 948.5 601.8 949.4C601.3 950.3 600.8 951.1 600.2 951.9C599.8 952.5 599.4 953 598.9 953.5C598.7 953.8 598.5 954 598.2 954.2C598.1 954.3 598 954.4 597.8 954.5C597.7 954.6 597.5 954.7 597.4 954.7C597.2 954.8 597.1 954.9 596.9 954.9C596.7 955 596.6 955.1 596.4 955.1C596.2 955.1 596.1 955.2 595.9 955.2" stroke="#6f6f6f" stroke-width="8.6" stroke-dasharray="17.9 18.3" stroke-dashoffset="-5" stroke-linecap="round"/>
<path d="M416.8 802V904.5" stroke="#000" stroke-width="5.6" stroke-dasharray="5.6 5.25"/>
<path d="M595.2 897.7V1001" stroke="#000" stroke-width="5.6" stroke-dasharray="5.6 5.25"/>
</g>
<text transform="translate(53.3 1066.3) scale(1 1.05)" font-size="34.5" text-anchor="middle">110</text>
<text transform="translate(203.6 1066.3) scale(1 1.05)" font-size="34.5" text-anchor="middle">120</text>
<text transform="translate(353.8 1066.3) scale(1 1.05)" font-size="34.5" text-anchor="middle">130</text>
<text transform="translate(504.1 1066.3) scale(1 1.05)" font-size="34.5" text-anchor="middle">140</text>
<text transform="translate(654.4 1066.3) scale(1 1.05)" font-size="34.5" text-anchor="middle">150</text>
<text transform="translate(804.6 1066.3) scale(1 1.05)" font-size="34.5" text-anchor="middle">160</text>
<text transform="translate(954.9 1066.3) scale(1 1.05)" font-size="34.5" text-anchor="middle">170</text>
<text transform="translate(459.8 1110.6) scale(1 1.05)" font-size="33.60">T (°C)</text>
<text transform="translate(32.9 891.4) rotate(-90) scale(1 1.05)" font-size="34.00">ΔH (W/g)</text>
<text transform="translate(78.7 986) scale(1 1.03)" font-size="48" class="r">(c)</text>
<text transform="translate(237 621.4) scale(1 1.05)" font-size="26.73">Nylon</text>
<text transform="translate(157.6 719) scale(1 1.05)" font-size="25.84">Pebax</text>
<text transform="translate(374.2 926) scale(1 1.05)" font-size="26.00">134°C</text>
<text transform="translate(613.7 985.6) scale(1 1.05)" font-size="25.85">146°C</text>
<path d="M1314.5 590.1V1019M1520.2 590.1V1019M1726 590.1V1019M1931.7 590.1V1019M1108.7 590.1H1982.5M1108.7 661.6H1982.5M1108.7 733.1H1982.5M1108.7 804.5H1982.5M1108.7 876H1982.5M1108.7 947.5H1982.5" stroke="#dbdbdb" stroke-width="1.2" fill="none"/>
<path d="M1108.7 1019H1982.5M1108.7 590.1V1019M1108.7 1019V1028M1314.5 1019V1028M1520.2 1019V1028M1726 1019V1028M1931.7 1019V1028" stroke="#bcbcbc" stroke-width="1.6" fill="none"/>
<g clip-path="url(#cd)" fill="none" stroke-linejoin="round">
<path d="M1100.7 973.9L1108.7 973.3C1123.7 972.2 1138.6 971 1153.6 970C1168.6 968.9 1183.6 967.9 1198.5 967C1213.5 966.2 1228.5 965.4 1243.5 964.7C1258.5 963.9 1273.5 963.2 1288.5 962.3C1303.5 961.5 1318.5 960.4 1333.4 958.9C1348.3 957.4 1363.3 956 1378.2 954.7C1385.5 954.1 1392.9 953.6 1400.2 953.7C1415.2 953.9 1430.2 954.9 1445.2 955.3C1458.7 955.7 1472.2 955.9 1485.7 955C1497 954.1 1508.3 953.2 1519.5 951.2C1531.2 949.2 1542.6 946.1 1554 942.9C1557.6 941.9 1561 940.7 1564.5 939.3C1567.4 938.1 1570.3 936.9 1573.1 935.4C1575.5 934.1 1577.8 932.8 1580 931.3C1583.3 929.1 1586.5 926.7 1589.6 924.2C1592.3 921.9 1594.9 919.6 1597.4 917.1C1599.7 914.7 1602 912.3 1604.1 909.7C1612 899.9 1619 889.6 1625.9 879.1C1634.1 866.5 1641.7 853.6 1649 840.5C1656.2 827.3 1662.7 813.7 1669.5 800.4C1676.3 787 1683 773.5 1691 760.9C1691.5 760.2 1692 759.5 1692.5 758.8C1693 758.2 1693.5 757.5 1694.2 756.9C1694.4 756.7 1694.7 756.5 1694.9 756.3C1695.1 756.2 1695.2 756.1 1695.4 756C1695.5 755.9 1695.7 755.9 1695.8 755.8C1696 755.8 1696.1 755.7 1696.3 755.7C1696.5 755.7 1696.7 755.6 1696.8 755.6C1697 755.6 1697.2 755.6 1697.3 755.6C1697.5 755.6 1697.7 755.6 1697.8 755.7C1698 755.7 1698.2 755.8 1698.3 755.8C1698.5 755.9 1698.6 755.9 1698.8 756C1698.9 756.1 1699.1 756.2 1699.2 756.3C1699.5 756.5 1699.7 756.7 1700 756.9C1700.4 757.3 1700.7 757.7 1701 758C1701.6 758.7 1702.1 759.3 1702.5 760C1703 760.7 1703.4 761.5 1703.8 762.2C1704.3 763.1 1704.7 764 1705 764.9C1705.5 766.2 1705.9 767.5 1706.3 768.7C1707 771.3 1707.4 773.9 1707.9 776.6C1710.3 791.4 1712.5 806.2 1714.7 821.1C1716.8 836 1718.6 850.9 1720.3 865.8C1722 880.7 1724.7 895.5 1727.6 910.2C1729.1 917.5 1730.5 924.9 1732.8 932.1C1733.9 935.8 1735.3 939.4 1736.8 942.9C1738.2 946.1 1739.6 949.3 1741.3 952.3C1742.4 954.2 1743.5 956.1 1744.8 957.9C1745.7 959.2 1746.8 960.5 1747.9 961.8C1748.7 962.7 1749.5 963.5 1750.3 964.3C1751.2 965.1 1752.1 965.8 1753 966.5C1754.5 967.6 1756 968.6 1757.6 969.6C1758.6 970.2 1759.6 970.7 1760.7 971.2C1761.5 971.5 1762.3 971.8 1763.1 972.1C1763.9 972.3 1764.7 972.5 1765.5 972.7C1769.6 973.5 1773.7 973.9 1777.9 974.3C1792.8 975.7 1807.9 975.5 1822.9 975.7C1837.9 975.8 1852.9 975.9 1867.9 976C1882.9 976 1897.9 976.1 1912.9 976.2C1928 976.2 1943 976.3 1958 976.3C1966.5 976.3 1975 976.3 1983.5 976.3L1991.5 976.3" stroke="#fff" stroke-width="15.7"/>
<path d="M1100.7 916.1L1108.7 915.4C1123.7 914.1 1138.6 912.9 1153.6 911.7C1168.5 910.5 1183.5 909.4 1198.5 908.4C1213.4 907.3 1228.4 906.4 1243.4 905.4C1258.4 904.5 1273.3 903.5 1288.3 902.5C1303.3 901.6 1318.3 900.5 1333.2 899.3C1348.2 898.2 1363.1 897 1378.1 895.8C1393.1 894.5 1408 893.3 1423 892C1437.9 890.7 1452.9 889.4 1467.8 887.8C1482.7 886.2 1497.6 884.3 1512.4 881.9C1522.4 880.3 1532.5 878.6 1542.7 878C1557.6 877.2 1572.6 876.3 1587.5 874.2C1598.4 872.6 1609.3 871.2 1620 868.5C1626.8 866.8 1633.4 864.4 1640 862.1C1646.4 859.8 1652.8 857.2 1658.9 854.3C1662.1 852.7 1665.2 851.1 1668.2 849.3C1670.6 847.8 1673 846.2 1675.2 844.5C1677.2 843 1679.2 841.4 1681 839.7C1682.7 838.1 1684.3 836.4 1685.9 834.7C1687.4 832.9 1688.9 831.1 1690.2 829.2C1691.6 827.3 1692.8 825.3 1693.9 823.3C1696.9 818 1699.5 812.6 1701.9 807.1C1706.5 796.4 1711.1 785.7 1716.8 775.5C1717.7 773.9 1718.7 772.3 1719.7 770.8C1720.1 770.3 1720.5 769.8 1721 769.3C1721.3 768.9 1721.7 768.5 1722.1 768.2C1722.3 768 1722.6 767.8 1722.9 767.6C1723.2 767.4 1723.5 767.3 1723.8 767.1C1724.1 767 1724.4 766.8 1724.7 766.7C1725 766.6 1725.3 766.5 1725.6 766.5C1726.1 766.3 1726.6 766.3 1727.1 766.2C1727.8 766.2 1728.5 766.1 1729.1 766.2C1731.3 766.2 1733.4 766.8 1735.6 766.6C1736 766.5 1736.3 766.5 1736.6 766.4C1736.9 766.3 1737.3 766.2 1737.6 766.1C1737.9 765.9 1738.2 765.8 1738.4 765.6C1738.7 765.4 1739 765.2 1739.2 765C1739.6 764.6 1739.9 764.2 1740.3 763.9C1740.7 763.4 1741.1 762.8 1741.5 762.3C1742.1 761.5 1742.6 760.6 1743.1 759.7C1746.3 753.9 1749.3 747.9 1752 741.8C1754.5 736 1756.7 730 1758.6 724C1763.1 709.7 1766.8 695.1 1770.5 680.6C1774.1 666 1777.6 651.4 1782.2 637.1C1784.4 630.3 1785.7 623.1 1788.9 616.6C1788.9 616.5 1789 616.3 1789.1 616.2C1789.2 616.1 1789.3 615.9 1789.4 615.8C1789.6 615.7 1789.7 615.6 1789.8 615.5C1790 615.4 1790.2 615.3 1790.3 615.3C1790.5 615.2 1790.7 615.2 1790.8 615.1C1791 615.1 1791.1 615.1 1791.3 615.2C1791.4 615.2 1791.6 615.3 1791.7 615.4C1791.8 615.5 1791.9 615.6 1792 615.7C1792.1 615.9 1792.2 616 1792.3 616.2C1793.3 618 1793.9 619.6 1794.6 621.3C1795.6 623.6 1796.4 626 1797.1 628.4C1798.5 633.4 1799.6 638.4 1800.6 643.5C1803.3 658.3 1805.4 673.2 1806.9 688.1C1808.5 703 1810.1 717.9 1811.4 732.9C1812.7 747.8 1813.9 762.8 1815.7 777.7C1817.5 792.6 1819.5 807.5 1821.7 822.3C1823.6 835.8 1825.9 849.3 1829.2 862.6C1830.8 868.9 1832.5 875.2 1834.7 881.3C1835.8 884.1 1836.9 886.9 1838.2 889.6C1839.2 891.7 1840.3 893.8 1841.6 895.8C1842.4 897 1843.2 898.3 1844.1 899.5C1844.8 900.4 1845.6 901.3 1846.4 902.1C1847.1 902.9 1847.8 903.5 1848.6 904.2C1849.6 905 1850.7 905.8 1851.8 906.5C1853.1 907.3 1854.4 908.1 1855.7 908.8C1856.9 909.4 1858.2 909.9 1859.4 910.4C1860.7 910.8 1861.9 911.2 1863.2 911.5C1867.1 912.5 1871 913.3 1875 913.8C1877.8 914.2 1880.6 914.5 1883.5 914.6C1898.5 915.2 1913.5 914.9 1928.5 914.9C1943.5 914.9 1958.5 914.6 1973.5 914.2C1976.8 914.1 1980.2 914 1983.5 913.9L1991.5 913.7" stroke="#fff" stroke-width="16.4"/>
<path d="M1100.7 973.9L1108.7 973.3C1123.7 972.2 1138.6 971 1153.6 970C1168.6 968.9 1183.6 967.9 1198.5 967C1213.5 966.2 1228.5 965.4 1243.5 964.7C1258.5 963.9 1273.5 963.2 1288.5 962.3C1303.5 961.5 1318.5 960.4 1333.4 958.9C1348.3 957.4 1363.3 956 1378.2 954.7C1385.5 954.1 1392.9 953.6 1400.2 953.7C1415.2 953.9 1430.2 954.9 1445.2 955.3C1458.7 955.7 1472.2 955.9 1485.7 955C1497 954.1 1508.3 953.2 1519.5 951.2C1531.2 949.2 1542.6 946.1 1554 942.9C1557.6 941.9 1561 940.7 1564.5 939.3C1567.4 938.1 1570.3 936.9 1573.1 935.4C1575.5 934.1 1577.8 932.8 1580 931.3C1583.3 929.1 1586.5 926.7 1589.6 924.2C1592.3 921.9 1594.9 919.6 1597.4 917.1C1599.7 914.7 1602 912.3 1604.1 909.7C1612 899.9 1619 889.6 1625.9 879.1C1634.1 866.5 1641.7 853.6 1649 840.5C1656.2 827.3 1662.7 813.7 1669.5 800.4C1676.3 787 1683 773.5 1691 760.9C1691.5 760.2 1692 759.5 1692.5 758.8C1693 758.2 1693.5 757.5 1694.2 756.9C1694.4 756.7 1694.7 756.5 1694.9 756.3C1695.1 756.2 1695.2 756.1 1695.4 756C1695.5 755.9 1695.7 755.9 1695.8 755.8C1696 755.8 1696.1 755.7 1696.3 755.7C1696.5 755.7 1696.7 755.6 1696.8 755.6C1697 755.6 1697.2 755.6 1697.3 755.6C1697.5 755.6 1697.7 755.6 1697.8 755.7C1698 755.7 1698.2 755.8 1698.3 755.8C1698.5 755.9 1698.6 755.9 1698.8 756C1698.9 756.1 1699.1 756.2 1699.2 756.3C1699.5 756.5 1699.7 756.7 1700 756.9C1700.4 757.3 1700.7 757.7 1701 758C1701.6 758.7 1702.1 759.3 1702.5 760C1703 760.7 1703.4 761.5 1703.8 762.2C1704.3 763.1 1704.7 764 1705 764.9C1705.5 766.2 1705.9 767.5 1706.3 768.7C1707 771.3 1707.4 773.9 1707.9 776.6C1710.3 791.4 1712.5 806.2 1714.7 821.1C1716.8 836 1718.6 850.9 1720.3 865.8C1722 880.7 1724.7 895.5 1727.6 910.2C1729.1 917.5 1730.5 924.9 1732.8 932.1C1733.9 935.8 1735.3 939.4 1736.8 942.9C1738.2 946.1 1739.6 949.3 1741.3 952.3C1742.4 954.2 1743.5 956.1 1744.8 957.9C1745.7 959.2 1746.8 960.5 1747.9 961.8C1748.7 962.7 1749.5 963.5 1750.3 964.3C1751.2 965.1 1752.1 965.8 1753 966.5C1754.5 967.6 1756 968.6 1757.6 969.6C1758.6 970.2 1759.6 970.7 1760.7 971.2C1761.5 971.5 1762.3 971.8 1763.1 972.1C1763.9 972.3 1764.7 972.5 1765.5 972.7C1769.6 973.5 1773.7 973.9 1777.9 974.3C1792.8 975.7 1807.9 975.5 1822.9 975.7C1837.9 975.8 1852.9 975.9 1867.9 976C1882.9 976 1897.9 976.1 1912.9 976.2C1928 976.2 1943 976.3 1958 976.3C1966.5 976.3 1975 976.3 1983.5 976.3L1991.5 976.3" stroke="#9d9d9d" stroke-width="9.7"/>
<path d="M1100.7 916.1L1108.7 915.4C1123.7 914.1 1138.6 912.9 1153.6 911.7C1168.5 910.5 1183.5 909.4 1198.5 908.4C1213.4 907.3 1228.4 906.4 1243.4 905.4C1258.4 904.5 1273.3 903.5 1288.3 902.5C1303.3 901.6 1318.3 900.5 1333.2 899.3C1348.2 898.2 1363.1 897 1378.1 895.8C1393.1 894.5 1408 893.3 1423 892C1437.9 890.7 1452.9 889.4 1467.8 887.8C1482.7 886.2 1497.6 884.3 1512.4 881.9C1522.4 880.3 1532.5 878.6 1542.7 878C1557.6 877.2 1572.6 876.3 1587.5 874.2C1598.4 872.6 1609.3 871.2 1620 868.5C1626.8 866.8 1633.4 864.4 1640 862.1C1646.4 859.8 1652.8 857.2 1658.9 854.3C1662.1 852.7 1665.2 851.1 1668.2 849.3C1670.6 847.8 1673 846.2 1675.2 844.5C1677.2 843 1679.2 841.4 1681 839.7C1682.7 838.1 1684.3 836.4 1685.9 834.7C1687.4 832.9 1688.9 831.1 1690.2 829.2C1691.6 827.3 1692.8 825.3 1693.9 823.3C1696.9 818 1699.5 812.6 1701.9 807.1C1706.5 796.4 1711.1 785.7 1716.8 775.5C1717.7 773.9 1718.7 772.3 1719.7 770.8C1720.1 770.3 1720.5 769.8 1721 769.3C1721.3 768.9 1721.7 768.5 1722.1 768.2C1722.3 768 1722.6 767.8 1722.9 767.6C1723.2 767.4 1723.5 767.3 1723.8 767.1C1724.1 767 1724.4 766.8 1724.7 766.7C1725 766.6 1725.3 766.5 1725.6 766.5C1726.1 766.3 1726.6 766.3 1727.1 766.2C1727.8 766.2 1728.5 766.1 1729.1 766.2C1731.3 766.2 1733.4 766.8 1735.6 766.6C1736 766.5 1736.3 766.5 1736.6 766.4C1736.9 766.3 1737.3 766.2 1737.6 766.1C1737.9 765.9 1738.2 765.8 1738.4 765.6C1738.7 765.4 1739 765.2 1739.2 765C1739.6 764.6 1739.9 764.2 1740.3 763.9C1740.7 763.4 1741.1 762.8 1741.5 762.3C1742.1 761.5 1742.6 760.6 1743.1 759.7C1746.3 753.9 1749.3 747.9 1752 741.8C1754.5 736 1756.7 730 1758.6 724C1763.1 709.7 1766.8 695.1 1770.5 680.6C1774.1 666 1777.6 651.4 1782.2 637.1C1784.4 630.3 1785.7 623.1 1788.9 616.6C1788.9 616.5 1789 616.3 1789.1 616.2C1789.2 616.1 1789.3 615.9 1789.4 615.8C1789.6 615.7 1789.7 615.6 1789.8 615.5C1790 615.4 1790.2 615.3 1790.3 615.3C1790.5 615.2 1790.7 615.2 1790.8 615.1C1791 615.1 1791.1 615.1 1791.3 615.2C1791.4 615.2 1791.6 615.3 1791.7 615.4C1791.8 615.5 1791.9 615.6 1792 615.7C1792.1 615.9 1792.2 616 1792.3 616.2C1793.3 618 1793.9 619.6 1794.6 621.3C1795.6 623.6 1796.4 626 1797.1 628.4C1798.5 633.4 1799.6 638.4 1800.6 643.5C1803.3 658.3 1805.4 673.2 1806.9 688.1C1808.5 703 1810.1 717.9 1811.4 732.9C1812.7 747.8 1813.9 762.8 1815.7 777.7C1817.5 792.6 1819.5 807.5 1821.7 822.3C1823.6 835.8 1825.9 849.3 1829.2 862.6C1830.8 868.9 1832.5 875.2 1834.7 881.3C1835.8 884.1 1836.9 886.9 1838.2 889.6C1839.2 891.7 1840.3 893.8 1841.6 895.8C1842.4 897 1843.2 898.3 1844.1 899.5C1844.8 900.4 1845.6 901.3 1846.4 902.1C1847.1 902.9 1847.8 903.5 1848.6 904.2C1849.6 905 1850.7 905.8 1851.8 906.5C1853.1 907.3 1854.4 908.1 1855.7 908.8C1856.9 909.4 1858.2 909.9 1859.4 910.4C1860.7 910.8 1861.9 911.2 1863.2 911.5C1867.1 912.5 1871 913.3 1875 913.8C1877.8 914.2 1880.6 914.5 1883.5 914.6C1898.5 915.2 1913.5 914.9 1928.5 914.9C1943.5 914.9 1958.5 914.6 1973.5 914.2C1976.8 914.1 1980.2 914 1983.5 913.9L1991.5 913.7" stroke="#000" stroke-width="10.4"/>
<path d="M1521.1 783.8V872" stroke="#000" stroke-width="5.2" stroke-dasharray="5.3 5.2"/>
<path d="M1397.4 965.7V1008" stroke="#000" stroke-width="5.2" stroke-dasharray="5.3 5.2"/>
</g>
<text transform="translate(1108.7 1068.7) scale(1 1.05)" font-size="33.4" class="r g" text-anchor="middle">110</text>
<text transform="translate(1314.5 1068.7) scale(1 1.05)" font-size="33.4" class="r g" text-anchor="middle">130</text>
<text transform="translate(1520.2 1068.7) scale(1 1.05)" font-size="33.4" class="r g" text-anchor="middle">150</text>
<text transform="translate(1726 1068.7) scale(1 1.05)" font-size="33.4" class="r g" text-anchor="middle">170</text>
<text transform="translate(1931.7 1068.7) scale(1 1.05)" font-size="33.4" class="r g" text-anchor="middle">190</text>
<text transform="translate(1501.4 1111.4) scale(1 1.05)" font-size="33.02" class="r g">T (°C)</text>
<text transform="translate(1088.1 898.8) rotate(-90) scale(1 1.05)" font-size="33.88" class="r g">ΔH (W/g)</text>
<text transform="translate(1148.8 633.4) scale(1 1.03)" font-size="48" class="r">(d)</text>
<text transform="translate(1482.7 765.7) scale(1 1.05)" font-size="25.29">150°C</text>
<text transform="translate(1662.1 736.8) scale(1 1.05)" font-size="25.00">167°C</text>
<text transform="translate(1810.7 629.9) scale(1 1.05)" font-size="24.92">176°C</text>
<text transform="translate(1404.8 1000.2) scale(1 1.05)" font-size="25.15">138°C</text>
<text transform="translate(1159.3 888.8) scale(1 1.05)" font-size="25.67">Nylon</text>
<text transform="translate(1162.4 1005.2) scale(1 1.05)" font-size="25.24">Pebax</text>
</g>
</svg>
</body></html>
